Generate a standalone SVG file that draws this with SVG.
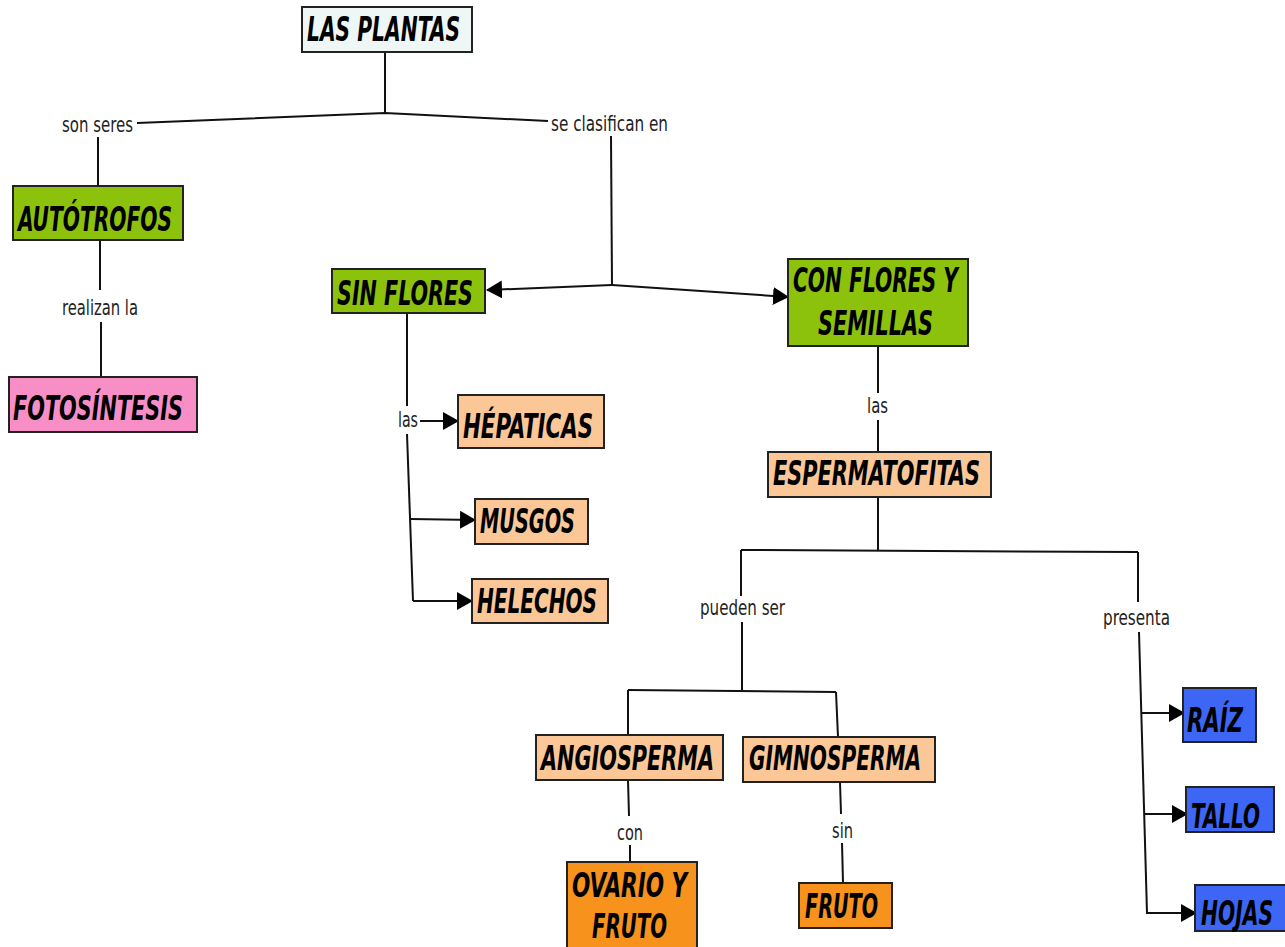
<svg xmlns="http://www.w3.org/2000/svg" width="1285" height="947" viewBox="0 0 1285 947">
<style>
.n{stroke:#222;stroke-width:2}
.t{font-family:"DejaVu Sans Condensed","DejaVu Sans",sans-serif;font-weight:bold;font-style:italic;font-size:34px;fill:#000}
.l{font-family:"DejaVu Sans Condensed","DejaVu Sans",sans-serif;font-size:21px;fill:#222}
.c{fill:none;stroke:#111;stroke-width:2}
.green{fill:#8cc20b}
.peach{fill:#fbc797}
.blue{fill:#3c66f3}
.pink{fill:#f78fc6}
.orange{fill:#f7921c}
.plain{fill:#eef6f6}
</style>
<defs>
<marker id="ah" markerUnits="userSpaceOnUse" markerWidth="16" markerHeight="18" refX="15" refY="9" orient="auto">
<path d="M0,0 L16,9 L0,18 Z" fill="#000"/>
</marker>
</defs>
<g id="connectors">
<path class="c" d="M385,52 L385,113"/>
<path class="c" d="M137,123 L385,113 L548,121"/>
<path class="c" d="M98,137 L98,186"/>
<path class="c" d="M100,240 L100,290"/>
<path class="c" d="M101,322 L101,377"/>
<path class="c" d="M611,136 L612,285"/>
<path class="c" d="M612,285 L487,290" marker-end="url(#ah)"/>
<path class="c" d="M612,285 L788,297" marker-end="url(#ah)"/>
<path class="c" d="M407,313 L407,406"/>
<path class="c" d="M407,434 L413,601"/>
<path class="c" d="M420,421 L458,421" marker-end="url(#ah)"/>
<path class="c" d="M411,519 L475,520" marker-end="url(#ah)"/>
<path class="c" d="M413,601 L472,601" marker-end="url(#ah)"/>
<path class="c" d="M878,346 L878,393"/>
<path class="c" d="M878,420 L878,452"/>
<path class="c" d="M878,497 L878,550"/>
<path class="c" d="M741,550 L1138,552"/>
<path class="c" d="M741,550 L741,596"/>
<path class="c" d="M742,622 L742,690"/>
<path class="c" d="M628,690 L836,692"/>
<path class="c" d="M628,690 L628,735"/>
<path class="c" d="M836,692 L838,737"/>
<path class="c" d="M628,780 L629,816"/>
<path class="c" d="M630,845 L630,862"/>
<path class="c" d="M840,782 L841,814"/>
<path class="c" d="M842,843 L843,883"/>
<path class="c" d="M1138,552 L1138,602"/>
<path class="c" d="M1139,632 L1147,913"/>
<path class="c" d="M1142,713 L1184,713" marker-end="url(#ah)"/>
<path class="c" d="M1144,814 L1187,814" marker-end="url(#ah)"/>
<path class="c" d="M1146,913 L1196,913" marker-end="url(#ah)"/>
</g>
<g id="labels">
<text class="l" x="62" y="132" textLength="71" lengthAdjust="spacingAndGlyphs">son seres</text>
<text class="l" x="62" y="315" textLength="76" lengthAdjust="spacingAndGlyphs">realizan la</text>
<text class="l" x="551" y="131" textLength="117" lengthAdjust="spacingAndGlyphs">se clasifican en</text>
<text class="l" x="398" y="427" textLength="20" lengthAdjust="spacingAndGlyphs">las</text>
<text class="l" x="867" y="413" textLength="21" lengthAdjust="spacingAndGlyphs">las</text>
<text class="l" x="700" y="615" textLength="85" lengthAdjust="spacingAndGlyphs">pueden ser</text>
<text class="l" x="1103" y="625" textLength="67" lengthAdjust="spacingAndGlyphs">presenta</text>
<text class="l" x="617" y="840" textLength="26" lengthAdjust="spacingAndGlyphs">con</text>
<text class="l" x="832" y="838" textLength="21" lengthAdjust="spacingAndGlyphs">sin</text>
</g>
<g id="las-plantas"><rect class="n plain" x="302" y="7" width="170" height="45"/><text class="t" x="307" y="41" textLength="153" lengthAdjust="spacingAndGlyphs">LAS PLANTAS</text></g>
<g id="autotrofos"><rect class="n green" x="13" y="186" width="170" height="54"/><text class="t" x="18" y="231" textLength="154" lengthAdjust="spacingAndGlyphs">AUTÓTROFOS</text></g>
<g id="fotosintesis"><rect class="n pink" x="9" y="377" width="188" height="55"/><text class="t" x="13" y="420" textLength="170" lengthAdjust="spacingAndGlyphs">FOTOSÍNTESIS</text></g>
<g id="sin-flores"><rect class="n green" x="332" y="269" width="153" height="44"/><text class="t" x="337" y="305" textLength="136" lengthAdjust="spacingAndGlyphs">SIN FLORES</text></g>
<g id="con-flores"><rect class="n green" x="788" y="259" width="180" height="87"/><text class="t" x="793" y="292" textLength="165" lengthAdjust="spacingAndGlyphs">CON FLORES Y</text><text class="t" x="818" y="335" textLength="115" lengthAdjust="spacingAndGlyphs">SEMILLAS</text></g>
<g id="hepaticas"><rect class="n peach" x="458" y="395" width="146" height="53"/><text class="t" x="463" y="438" textLength="130" lengthAdjust="spacingAndGlyphs">HÉPATICAS</text></g>
<g id="musgos"><rect class="n peach" x="475" y="499" width="113" height="45"/><text class="t" x="480" y="533" textLength="95" lengthAdjust="spacingAndGlyphs">MUSGOS</text></g>
<g id="helechos"><rect class="n peach" x="472" y="579" width="136" height="44"/><text class="t" x="477" y="613" textLength="120" lengthAdjust="spacingAndGlyphs">HELECHOS</text></g>
<g id="espermatofitas"><rect class="n peach" x="768" y="452" width="223" height="45"/><text class="t" x="773" y="485" textLength="207" lengthAdjust="spacingAndGlyphs">ESPERMATOFITAS</text></g>
<g id="angiosperma"><rect class="n peach" x="536" y="735" width="187" height="45"/><text class="t" x="541" y="770" textLength="173" lengthAdjust="spacingAndGlyphs">ANGIOSPERMA</text></g>
<g id="gimnosperma"><rect class="n peach" x="743" y="737" width="192" height="45"/><text class="t" x="749" y="770" textLength="172" lengthAdjust="spacingAndGlyphs">GIMNOSPERMA</text></g>
<g id="ovario"><rect class="n orange" x="567" y="862" width="130" height="90"/><text class="t" x="572" y="897" textLength="115" lengthAdjust="spacingAndGlyphs">OVARIO Y</text><text class="t" x="592" y="938" textLength="75" lengthAdjust="spacingAndGlyphs">FRUTO</text></g>
<g id="fruto"><rect class="n orange" x="799" y="883" width="93" height="45"/><text class="t" x="805" y="918" textLength="73" lengthAdjust="spacingAndGlyphs">FRUTO</text></g>
<g id="raiz"><rect class="n blue" x="1183" y="688" width="73" height="54"/><text class="t" x="1187" y="732" textLength="56" lengthAdjust="spacingAndGlyphs">RAÍZ</text></g>
<g id="tallo"><rect class="n blue" x="1186" y="787" width="88" height="45"/><text class="t" x="1191" y="828" textLength="69" lengthAdjust="spacingAndGlyphs">TALLO</text></g>
<g id="hojas"><rect class="n blue" x="1195" y="885" width="92" height="46"/><text class="t" x="1201" y="925" textLength="72" lengthAdjust="spacingAndGlyphs">HOJAS</text></g>
</svg>
